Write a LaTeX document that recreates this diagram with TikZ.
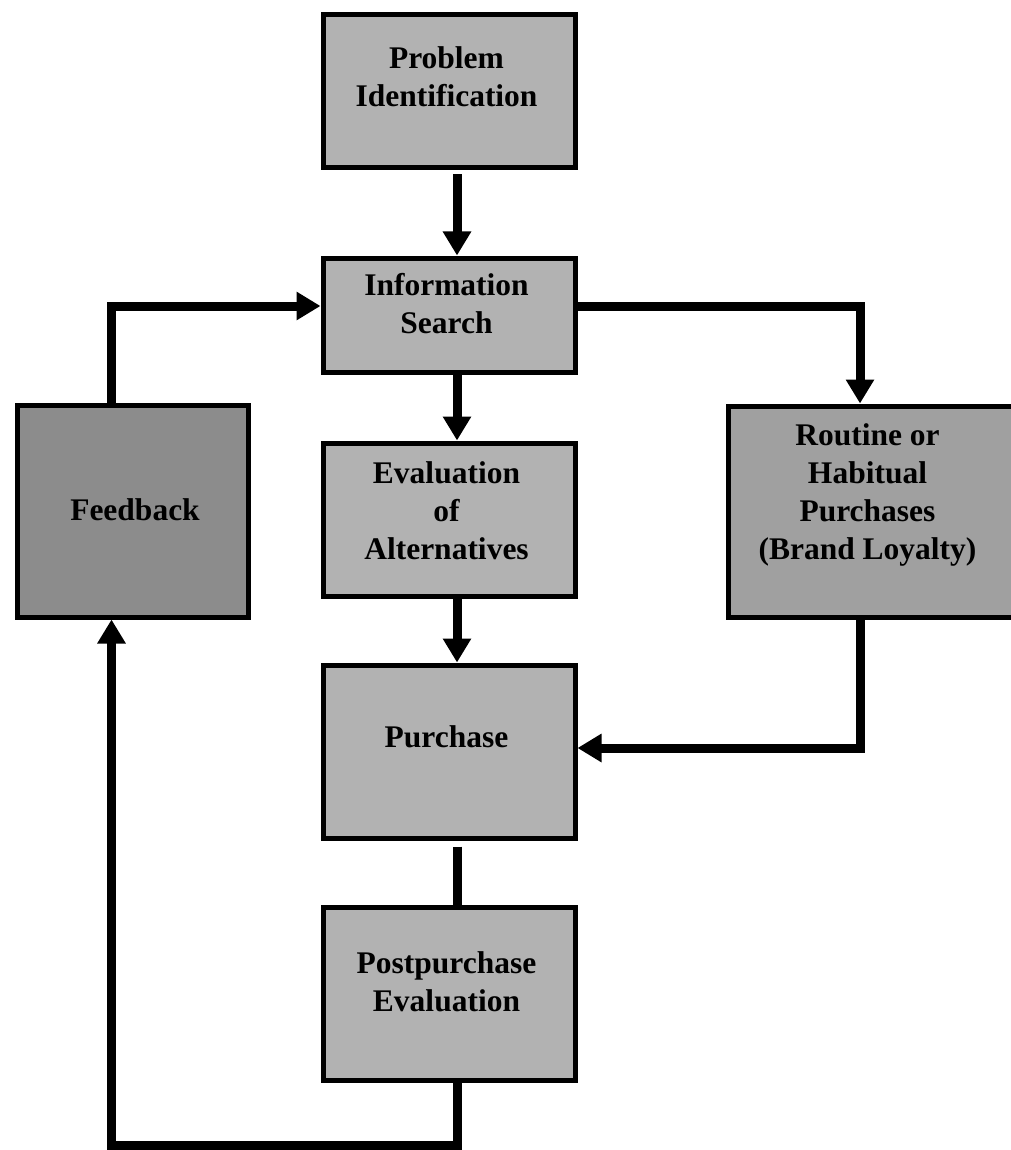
\documentclass[tikz,border=0pt]{standalone}
\usepackage{fontspec}
\setmainfont{Liberation Serif}
\usetikzlibrary{arrows.meta}
\definecolor{stepgray}{HTML}{B2B2B2}
\definecolor{habitgray}{HTML}{A0A0A0}
\definecolor{loopgray}{HTML}{8C8C8C}
\begin{document}
\begin{tikzpicture}[x=1pt,y=-1pt,
  box/.style={draw=black, line width=5pt, inner sep=0pt, anchor=north west, fill=stepgray},
  lbl/.style={font=\bfseries\fontsize{31.5}{38}\selectfont, align=center, inner sep=0pt, anchor=north},
  conn/.style={line width=9pt, draw=black},
  tip/.style={-{Triangle[width=27pt,length=24pt]}}]
\useasboundingbox (0,0) rectangle (1010,1150);

% stage boxes (anchored at the top-left of the border line)
\node[box, minimum width=252pt, minimum height=153pt] (pi) at (320.5,12.5) {};
\node[box, minimum width=252pt, minimum height=114pt] (is) at (320.5,255.5) {};
\node[box, minimum width=252pt, minimum height=153pt] (ev) at (320.5,440.5) {};
\node[box, minimum width=252pt, minimum height=173pt] (pu) at (320.5,662.5) {};
\node[box, minimum width=252pt, minimum height=173pt] (pp) at (320.5,904.5) {};
\node[box, fill=loopgray, minimum width=231pt, minimum height=212pt] (fb) at (14.5,402.5) {};
% this one runs past the right edge of the page
\node[box, fill=habitgray, minimum width=292pt, minimum height=211pt] (rt) at (725.5,403.5) {};

% captions
\node[lbl] (pi-t) at (446.5,46.5) {Problem\\Identification};
\node[lbl] (is-t) at (446.5,273.5) {Information\\Search};
\node[lbl] (ev-t) at (446.5,461.5) {Evaluation\\of\\Alternatives};
\node[lbl] (pu-t) at (446.5,725.5) {Purchase};
\node[lbl] (pp-t) at (446.5,951.5) {Postpurchase\\Evaluation};
\node[lbl] (fb-t) at (135,498.5) {Feedback};
\node[lbl] (rt-t) at (867.5,423.5) {Routine or\\Habitual\\Purchases\\(Brand Loyalty)};

% routing guides
\coordinate (ax) at (457,0);
\coordinate (ctl) at (111.5,306);
\coordinate (ctr) at (860,306);
\coordinate (cbr) at (860,748);
\coordinate (cbl) at (111.5,1145);

% main flow
\draw[conn, tip, shorten <=4pt] (pi.south -| ax) -- (is.north -| ax);
\draw[conn, tip] (is.south -| ax) -- (ev.north -| ax);
\draw[conn, tip] (ev.south -| ax) -- (pu.north -| ax);
\draw[conn, shorten <=6pt] (pu.south -| ax) -- (pp.north -| ax);

% habitual branch
\draw[conn, tip] (is.east |- ctr) -- (ctr) -- (rt.north -| ctr);
\draw[conn, tip] (rt.south -| ctr) -- (cbr) -- (pu.east |- cbr);

% feedback loop
\draw[conn, tip] (pp.south -| ax) -- (ax |- cbl) -- (cbl) -- (fb.south -| cbl);
\draw[conn, tip] (fb.north -| ctl) -- (ctl) -- (is.west |- ctl);
\end{tikzpicture}
\end{document}
